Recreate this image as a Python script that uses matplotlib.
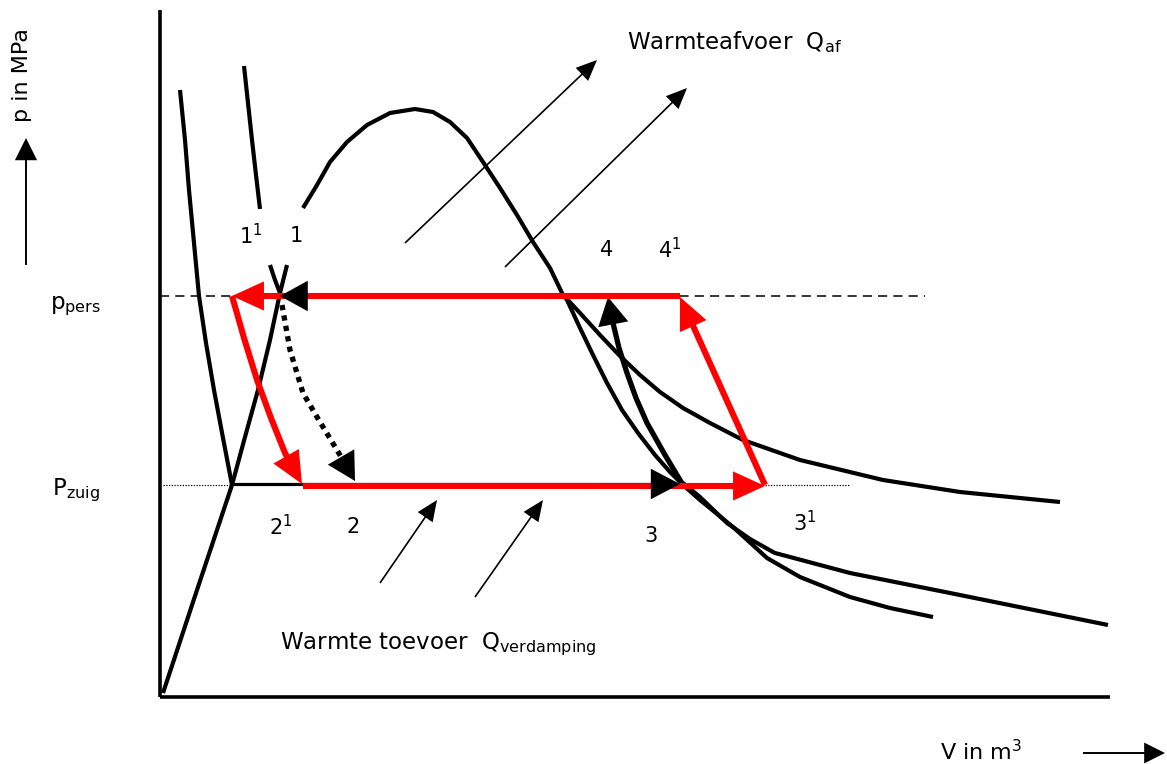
import numpy as np
import matplotlib
matplotlib.use("Agg")
import matplotlib.pyplot as plt

# pixel-space schematic: x to the right, y downwards (like the original drawing)
W, H = 1167, 764
PT = 100 / 72  # pixels per point at dpi 100

# axes of the diagram
axis_v_x, axis_v_y = [160, 160], [10, 697]
axis_h_x, axis_h_y = [160, 1110], [697, 697]

# pressure levels
p_pers_x, p_pers_y = [160, 925], [296, 296]
p_zuig_left_x, p_zuig_left_y = [163, 232], [485, 485]
p_zuig_right_x, p_zuig_right_y = [765, 850], [485, 485]

# left isotherm / curve through 1^1
curve_a_x = [180, 185, 189, 194, 199, 206, 214, 223, 232]
curve_a_y = [90, 140, 190, 243, 296, 343, 390, 438, 485]
curve_c_top_x = [244, 248, 252, 256, 260]
curve_c_top_y = [66, 103, 140, 175, 209]
curve_c_low_x = [270, 275, 280]
curve_c_low_y = [265, 280, 293]

# saturation dome (liquid side from origin, vapour side down to the right)
dome_low_x = [163, 197, 232, 245, 258, 270, 280, 287]
dome_low_y = [693, 590, 485, 437, 390, 340, 293, 265]
dome_top_x = [303, 317, 330, 347, 367, 390, 415, 433, 450, 467, 483, 500,
              517, 533, 550, 563, 567, 580, 593, 607, 622, 638, 655, 670, 683,
              700, 733, 767, 800, 850, 890, 933]
dome_top_y = [208, 185, 162, 142, 125, 113, 109, 112, 122, 138, 162, 188,
              215, 242, 268, 295, 300, 328, 355, 383, 410, 433, 455, 472, 485,
              500, 527, 558, 577, 597, 608, 617]

# isentropes on the right
upper_x = [565, 580, 600, 620, 640, 660, 683, 710, 743, 800, 883, 960, 1060]
upper_y = [297, 313, 335, 356, 375, 392, 408, 423, 440, 460, 480, 492, 502]
lower_x = [683, 700, 727, 750, 773, 775, 850, 950, 1108]
lower_y = [483, 497, 523, 539, 552, 553, 573, 593, 625]

# black cycle
black_bottom_x, black_bottom_y = [232, 680], [484, 484]
black_top_x, black_top_y = [310, 280], [296, 296]
dotted_x = [282, 290, 303, 317, 337, 355]
dotted_y = [305, 350, 393, 417, 450, 481]
comp_x = [683, 665, 647, 636, 627, 619, 613, 608]
comp_y = [485, 455, 423, 398, 373, 348, 323, 297]

# red cycle
red_top_x, red_top_y = [680, 232], [296, 296]
red_left_x = [232, 244, 257, 271, 285, 294, 302]
red_left_y = [296, 338, 380, 418, 453, 470, 484]
red_bottom_x, red_bottom_y = [303, 765], [486, 486]
red_right_x, red_right_y = [765, 680], [485, 297]

# heat flow arrows
heat_out = [((405, 243), (597, 60)), ((505, 267), (687, 88))]
heat_in = [((380, 583), (437, 500)), ((475, 597), (543, 500))]

# text labels
point_labels = [(251, 236, r"$\mathregular{1^1}$"), (296, 236, "1"),
                (607, 250, "4"), (670, 250, r"$\mathregular{4^1}$"),
                (281, 527, r"$\mathregular{2^1}$"), (353, 527, "2"),
                (651, 536, "3"), (805, 523, r"$\mathregular{3^1}$")]


def arrow(ax, xs, ys, color="black", lw=3.0, hl=20, hw=10, ls="-", z=3):
    xs, ys = list(xs), list(ys)
    dx, dy = xs[-1] - xs[-2], ys[-1] - ys[-2]
    d = np.hypot(dx, dy)
    cut = min(hl * PT * 0.6, d * 0.95)
    sx = xs[:-1] + [xs[-1] - dx / d * cut]
    sy = ys[:-1] + [ys[-1] - dy / d * cut]
    ax.plot(sx, sy, color=color, lw=lw, ls=ls, solid_capstyle="butt",
            dash_capstyle="butt", solid_joinstyle="round", zorder=z)
    ax.annotate("", xy=(xs[-1], ys[-1]), xytext=(xs[-2], ys[-2]),
                arrowprops=dict(arrowstyle=f"-|>,head_length={hl},head_width={hw}",
                                mutation_scale=1, color=color, lw=0,
                                shrinkA=0, shrinkB=0), zorder=z)


fig = plt.figure(figsize=(W / 100, H / 100), dpi=100)
ax = fig.add_axes([0, 0, 1, 1])
ax.set_xlim(0, W)
ax.set_ylim(H, 0)
ax.axis("off")

k = dict(color="black", solid_capstyle="butt", solid_joinstyle="round")
ax.plot(axis_v_x, axis_v_y, lw=2.6, **k)
ax.plot(axis_h_x, axis_h_y, lw=2.6, **k)
ax.plot(p_pers_x, p_pers_y, lw=1.1, ls=(0, (6, 4)), color="black")
ax.plot(p_zuig_left_x, p_zuig_left_y, lw=0.9, ls=(0, (1, 1.2)), color="black")
ax.plot(p_zuig_right_x, p_zuig_right_y, lw=0.9, ls=(0, (1, 1.2)), color="black")

for cx, cy in [(curve_a_x, curve_a_y), (curve_c_top_x, curve_c_top_y),
               (curve_c_low_x, curve_c_low_y), (dome_low_x, dome_low_y),
               (dome_top_x, dome_top_y), (upper_x, upper_y), (lower_x, lower_y)]:
    ax.plot(cx, cy, lw=3.0, **k)

# black cycle
ax.plot(black_bottom_x, black_bottom_y, lw=2.3, **k)
arrow(ax, [600, 680], black_bottom_y, lw=0.1, hl=21, hw=11, z=6)
arrow(ax, dotted_x, dotted_y, lw=3.8, ls=(0, (1, 1)), hl=20, hw=11, z=3)
arrow(ax, comp_x, comp_y, lw=3.8, hl=20, hw=11, z=3)

# red cycle
red = "#ff0000"
arrow(ax, red_top_x, red_top_y, color=red, lw=4.4, hl=23, hw=10.5, z=4)
arrow(ax, red_left_x, red_left_y, color=red, lw=4.4, hl=23, hw=10.5, z=4)
arrow(ax, red_bottom_x, red_bottom_y, color=red, lw=4.4, hl=23, hw=10.5, z=4)
arrow(ax, red_right_x, red_right_y, color=red, lw=4.4, hl=23, hw=10.5, z=4)
arrow(ax, black_top_x, black_top_y, lw=0.1, hl=20, hw=11, z=6)

for (x0, y0), (x1, y1) in heat_out + heat_in:
    arrow(ax, [x0, x1], [y0, y1], lw=1.2, hl=15, hw=6.5, z=3)

# axis labels with arrows
arrow(ax, [26, 26], [265, 138], lw=1.4, hl=16, hw=8)
arrow(ax, [1083, 1165], [753, 753], lw=1.4, hl=15, hw=7.5)
ax.text(22, 75, "p in MPa", rotation=90, fontsize=16, ha="center", va="center")
ax.text(940, 752, r"V in m$\mathregular{^3}$", fontsize=16, ha="left", va="center")

ax.text(50, 306, r"$\mathregular{p_{pers}}$", fontsize=16.5, ha="left", va="center")
ax.text(52, 490, r"$\mathregular{P_{zuig}}$", fontsize=16.5, ha="left", va="center")

ax.text(627, 42, r"Warmteafvoer  $\mathregular{Q_{af}}$", fontsize=16.5,
        ha="left", va="center")
ax.text(280, 644, r"Warmte toevoer  $\mathregular{Q_{verdamping}}$", fontsize=16.5,
        ha="left", va="center")

for x, y, s in point_labels:
    ax.text(x, y, s, fontsize=15, ha="center", va="center")

fig.savefig("out.png", dpi=100)
